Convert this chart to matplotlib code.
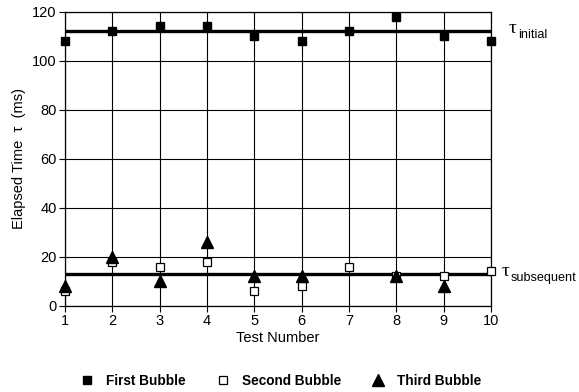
import numpy as np
import matplotlib.pyplot as plt

plt.rcParams['font.family'] = ['Liberation Sans', 'DejaVu Sans']

# bubble timing per test
tests = np.arange(1, 11)
first = [108, 112, 114, 114, 110, 108, 112, 118, 110, 108]
second = [6, 18, 16, 18, 6, 8, 16, 12, 12, 14]
third_tests = [1, 2, 3, 4, 5, 6, 8, 9]
third = [8, 20, 10, 26, 12, 12, 12, 8]

tau_initial = 112
tau_subsequent = 12.8

fig = plt.figure(figsize=(5.79, 3.92), dpi=100)
ax = fig.add_axes([0.112, 0.22, 0.736, 0.75])

ax.grid(True, color='black', linewidth=0.8)
ax.set_axisbelow(True)

# mean lines
ax.plot([1, 10], [tau_initial, tau_initial], color='black', lw=2.4,
        solid_capstyle='butt', zorder=2)
ax.plot([1, 10], [tau_subsequent, tau_subsequent], color='black', lw=2.4,
        solid_capstyle='butt', zorder=2)

ax.plot(tests, first, 's', color='black', ms=5.8, label='First Bubble', zorder=3,
        clip_on=False)
ax.plot(tests, second, 's', mfc='white', mec='black', mew=0.9, ms=6,
        label='Second Bubble', zorder=3, clip_on=False)
ax.plot(third_tests, third, '^', color='black', ms=8, label='Third Bubble',
        zorder=4, clip_on=False)

ax.set_xlim(1, 10)
ax.set_ylim(0, 120)
ax.set_xticks(tests)
ax.set_yticks(np.arange(0, 121, 20))
ax.tick_params(direction='out', length=4, width=0.8, labelsize=10.5, pad=2)
for s in ax.spines.values():
    s.set_linewidth(0.9)

ax.set_xlabel('Test Number', fontsize=10.5, labelpad=2)
ax.set_ylabel('Elapsed Time  \u03c4  (ms)', fontsize=10.5, labelpad=4)

# tau labels: serif tau with a sans subscript
for xpos, yval, sub in [(10.38, tau_initial, 'initial'),
                        (10.22, tau_subsequent, 'subsequent')]:
    ax.annotate('\u03c4', xy=(xpos, yval), xytext=(0, -1.5),
                textcoords='offset points', fontsize=14,
                family='Liberation Serif', va='baseline', ha='left',
                annotation_clip=False)
    ax.annotate(sub, xy=(xpos, yval), xytext=(6.6, -4.8),
                textcoords='offset points', fontsize=9.1,
                va='baseline', ha='left', annotation_clip=False)

leg = fig.legend(loc='center', bbox_to_anchor=(0.485, 0.028), ncol=3,
                 frameon=False, handlelength=1.0, handletextpad=0.9,
                 columnspacing=2.2, prop={'weight': 'bold', 'size': 9.8})

fig.savefig('out.png', dpi=100)
